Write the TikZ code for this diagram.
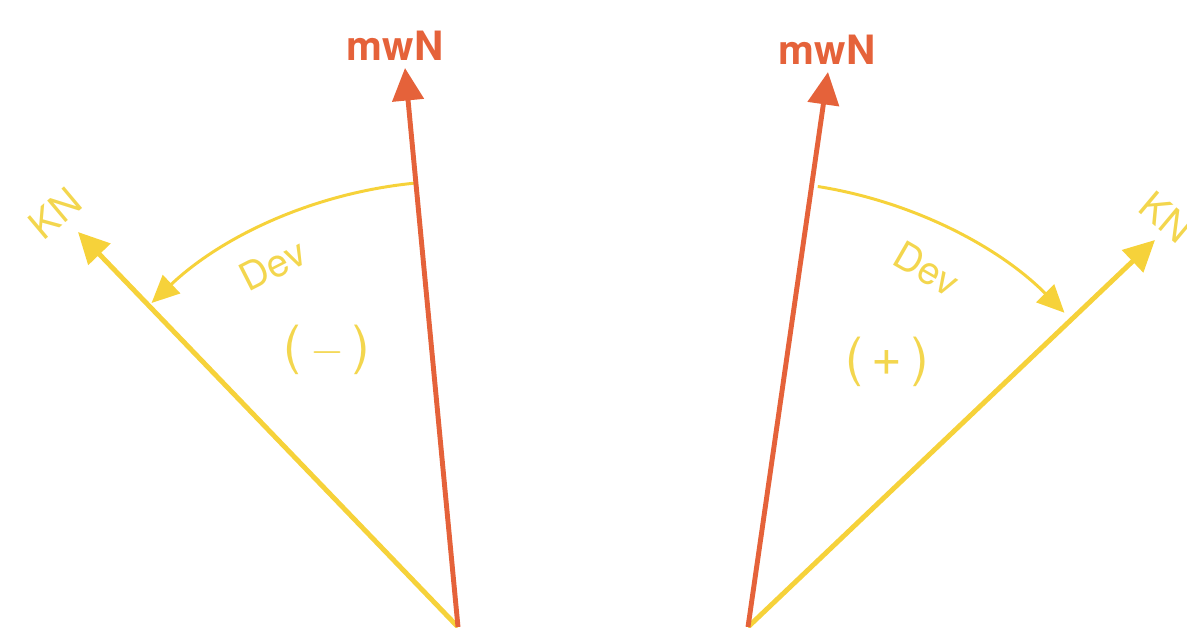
\documentclass[tikz,border=0pt]{standalone}
\usepackage{fontspec}
\setmainfont{TeX Gyre Heros}
\usetikzlibrary{calc,arrows.meta,positioning}
\definecolor{redx}{HTML}{E5623A}
\definecolor{goldx}{HTML}{F6D23A}
\definecolor{paleg}{HTML}{F3D64E}
\tikzset{
  mw/.style={-{Triangle[length=0.65cm,width=0.62cm]},line width=2.8pt,redx},
  kn/.style={-{Triangle[length=0.62cm,width=0.6cm]},line width=2.8pt,goldx},
  dv/.style={-{Triangle[length=0.55cm,width=0.5cm]},line width=1.7pt,goldx},
  lbr/.style={font=\fontsize{23}{26}\selectfont\bfseries,redx},
  lby/.style={font=\fontsize{22}{25}\selectfont,paleg},
  sgn/.style={font=\fontsize{30}{34}\selectfont,paleg}
}
\begin{document}
\begin{tikzpicture}[x=0.02cm,y=0.02cm]
\useasboundingbox (0,0) rectangle (1187,627);
% left: negative deviation
\coordinate (oL) at (458,0);
\coordinate (mL) at (405,559);
\coordinate (kL) at (78,395);
\draw[dv] ($(oL)+(95.4:446)$) arc[start angle=95.4,end angle=133.4,radius=446];
\draw[kn] (oL) -- (kL);
\draw[mw] (oL) -- (mL);
\node[lbr] (mwL) at (395,581) {mwN};
\node[lby,rotate=40] (knL) at (55,414) {KN};
\node[lby,rotate=27] (devL) at (273,362) {Dev};
\node[sgn] (sgL) at (327,277) {(\,$-$\,)};
% right: positive deviation
\coordinate (oR) at (748,0);
\coordinate (mR) at (828,555);
\coordinate (kR) at (1155,387);
\draw[dv] ($(oR)+(81.0:446)$) arc[start angle=81.0,end angle=44.8,radius=446];
\draw[kn] (oR) -- (kR);
\draw[mw] (oR) -- (mR);
\node[lbr] (mwR) at (827,577) {mwN};
\node[lby,rotate=-40] (knR) at (1166,410) {KN};
\node[lby,rotate=-30] (devR) at (927,358) {Dev};
\node[sgn] (sgR) at (887,265) {(\,+\,)};
\end{tikzpicture}
\end{document}
